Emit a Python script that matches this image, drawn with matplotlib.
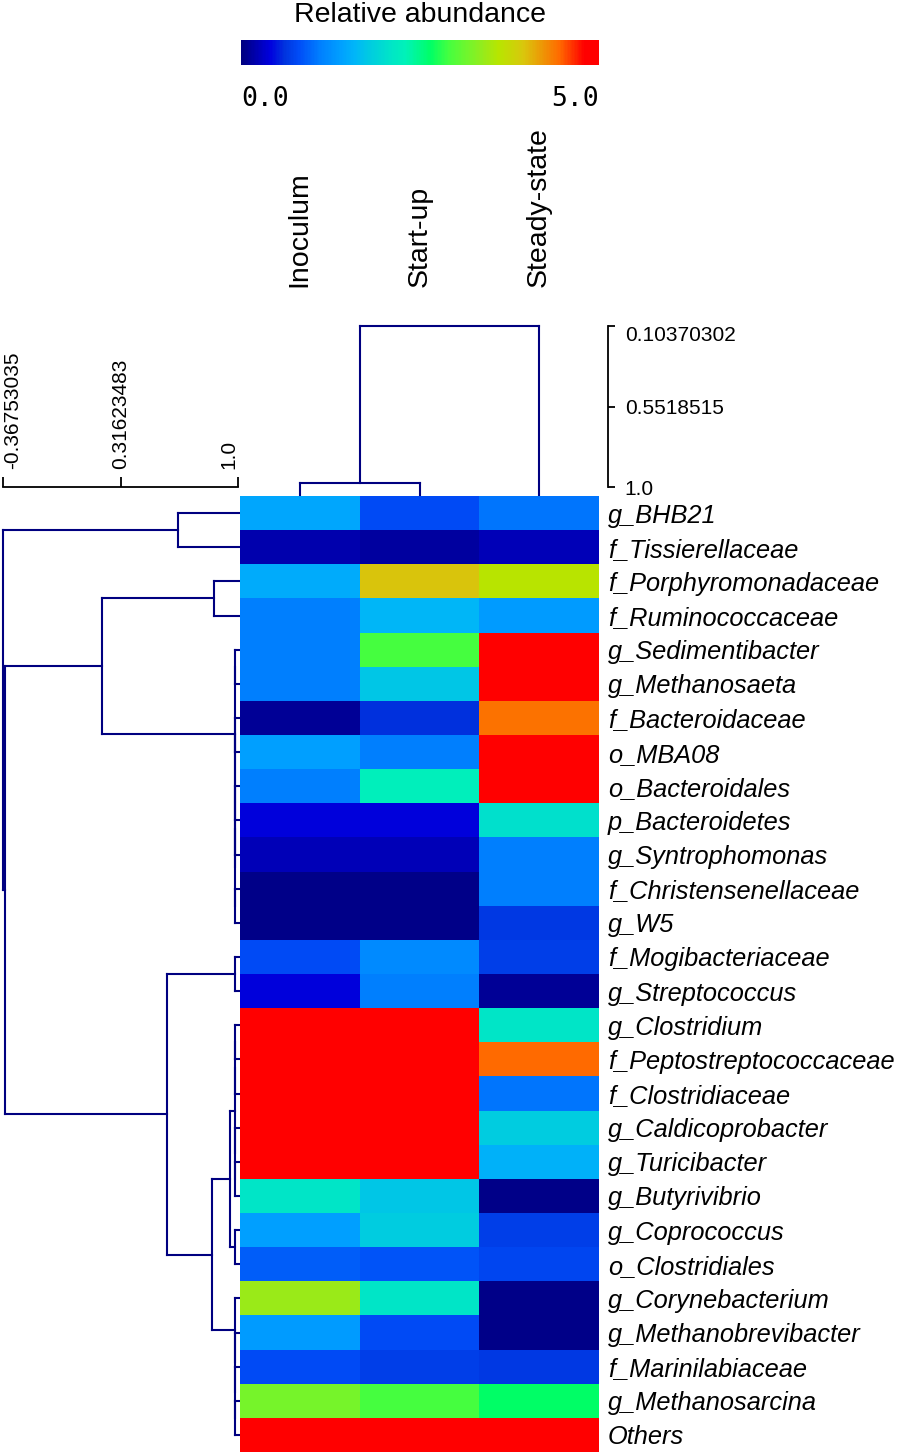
import numpy as np
import matplotlib
matplotlib.use("Agg")
import matplotlib.pyplot as plt
from matplotlib.colors import LinearSegmentedColormap

plt.rcParams['font.family'] = ['Liberation Sans', 'DejaVu Sans']

# ---- data ----
samples = ["Inoculum", "Start-up", "Steady-state"]

taxa = ["g_BHB21", "f_Tissierellaceae", "f_Porphyromonadaceae", "f_Ruminococcaceae",
        "g_Sedimentibacter", "g_Methanosaeta", "f_Bacteroidaceae", "o_MBA08",
        "o_Bacteroidales", "p_Bacteroidetes", "g_Syntrophomonas", "f_Christensenellaceae",
        "g_W5", "f_Mogibacteriaceae", "g_Streptococcus", "g_Clostridium",
        "f_Peptostreptococcaceae", "f_Clostridiaceae", "g_Caldicoprobacter", "g_Turicibacter",
        "g_Butyrivibrio", "g_Coprococcus", "o_Clostridiales", "g_Corynebacterium",
        "g_Methanobrevibacter", "f_Marinilabiaceae", "g_Methanosarcina", "Others"]

inoculum = [1.45, 0.20, 1.50, 1.10, 1.10, 1.10, 0.10, 1.40, 1.10, 0.40, 0.25, 0.05, 0.05, 0.80,
            0.40, 5.0, 5.0, 5.0, 5.0, 5.0, 2.10, 1.40, 0.90, 3.40, 1.35, 0.80, 3.20, 5.0]
startup = [0.80, 0.15, 3.95, 1.60, 2.90, 1.75, 0.60, 1.10, 2.25, 0.40, 0.25, 0.05, 0.05, 1.20,
           1.10, 5.0, 5.0, 5.0, 5.0, 5.0, 1.75, 1.80, 0.85, 2.10, 0.80, 0.70, 2.90, 5.0]
steady = [1.05, 0.25, 3.60, 1.35, 5.0, 5.0, 4.40, 5.0, 5.0, 2.05, 1.10, 1.10, 0.65, 0.70,
          0.10, 2.10, 4.45, 1.05, 1.80, 1.55, 0.05, 0.70, 0.75, 0.05, 0.05, 0.65, 2.65, 5.0]

# row clustering (similarity): (child a, child b, height), new node ids start at 28
row_merges = [
    (0, 1, 0.648), (2, 3, 0.859),
    (4, 5, 0.982), (6, 7, 0.982), (8, 9, 0.982), (32, 10, 0.982), (11, 12, 0.982),
    (33, 34, 0.982), (31, 35, 0.982), (30, 36, 0.980),
    (29, 37, 0.208),
    (13, 14, 0.982),
    (15, 16, 0.982), (40, 17, 0.982), (19, 20, 0.982), (18, 42, 0.982), (41, 43, 0.982),
    (21, 22, 0.982), (44, 45, 0.953),
    (26, 27, 0.982), (25, 47, 0.982), (24, 48, 0.982), (23, 49, 0.982),
    (46, 50, 0.847), (39, 51, 0.589), (38, 52, -0.356), (28, 53, -0.3675),
]
row_ticks = [-0.36753035, 0.31623483, 1.0]
row_ticklabels = ["-0.36753035", "0.31623483", "1.0"]

# column clustering
col_merges = [(0, 1, 0.978), (3, 2, 0.10370302)]
col_ticks = [0.10370302, 0.5518515, 1.0]
col_ticklabels = ["0.10370302", "0.5518515", "1.0"]

values = np.array([inoculum, startup, steady]).T

cmap = LinearSegmentedColormap.from_list("abund", [
    (0.00, (0.0, 0.0, 0.50)), (0.08, (0.0, 0.0, 0.87)), (0.12, (0.0, 0.2, 0.87)),
    (0.16, (0.0, 0.3, 0.97)), (0.22, (0.0, 0.5, 1.0)), (0.28, (0.0, 0.63, 1.0)),
    (0.32, (0.0, 0.72, 0.97)), (0.36, (0.0, 0.8, 0.88)), (0.42, (0.0, 0.9, 0.78)),
    (0.46, (0.0, 0.95, 0.72)), (0.53, (0.0, 1.0, 0.4)), (0.58, (0.27, 1.0, 0.25)),
    (0.65, (0.5, 0.95, 0.15)), (0.68, (0.6, 0.92, 0.1)), (0.72, (0.72, 0.9, 0.0)),
    (0.79, (0.85, 0.78, 0.05)), (0.89, (1.0, 0.42, 0.0)), (0.96, (1.0, 0.0, 0.0)),
    (1.00, (1.0, 0.0, 0.0))])

LINE = "#000080"
W, H = 898, 1455


def frac(x0, y0, x1, y1):
    return [x0 / W, 1 - y1 / H, (x1 - x0) / W, (y1 - y0) / H]


def dendro_segments(merges, n, leaf_h):
    pos = {i: float(i) for i in range(n)}
    hgt = {i: leaf_h for i in range(n)}
    segs = []
    for k, (a, b, h) in enumerate(merges):
        segs.append(([hgt[a], h], [pos[a], pos[a]]))
        segs.append(([hgt[b], h], [pos[b], pos[b]]))
        segs.append(([h, h], [pos[a], pos[b]]))
        pos[n + k] = (pos[a] + pos[b]) / 2
        hgt[n + k] = h
    return segs


fig = plt.figure(figsize=(W / 100, H / 100), dpi=100)

# heatmap
ax = fig.add_axes(frac(240, 496, 599, 1452))
im = ax.imshow(values, cmap=cmap, vmin=0, vmax=5, aspect="auto", interpolation="nearest")
ax.set_xticks([])
ax.yaxis.tick_right()
ax.set_yticks(range(len(taxa)))
ax.set_yticklabels(taxa, fontsize=18.3, fontstyle="italic")
ax.tick_params(axis="y", length=0, pad=6.5)
for s in ax.spines.values():
    s.set_visible(False)

# left dendrogram
axl = fig.add_axes(frac(0, 496, 240, 1452))
for name, s in axl.spines.items():
    s.set_visible(name == "top")
axl.spines["top"].set_position(("outward", 6.5))
axl.spines["top"].set_linewidth(1.3)
left_lim = (-0.387, 1.0116)
for hx, py in dendro_segments(row_merges, len(taxa), left_lim[1]):
    axl.plot(hx, py, color=LINE, lw=1.5, solid_capstyle="projecting")
axl.set_xlim(*left_lim)
axl.set_ylim(len(taxa) - 0.5, -0.5)
axl.set_yticks([])
axl.xaxis.tick_top()
axl.set_xticks(row_ticks)
axl.set_xticklabels(row_ticklabels, rotation=90, fontsize=15)
axl.tick_params(axis="x", direction="out", length=7, width=1.3, pad=6)
axl.spines["top"].set_bounds(row_ticks[0], row_ticks[-1])
axl.get_xticklabels()[-1].set_horizontalalignment("right")
axl.get_xticklabels()[0].set_horizontalalignment("left")
axl.patch.set_visible(False)

# top dendrogram
axt = fig.add_axes(frac(240, 300, 599, 496))
for name, s in axt.spines.items():
    s.set_visible(name == "right")
axt.spines["right"].set_position(("outward", 6.5))
axt.spines["right"].set_linewidth(1.3)
top_lim = (1.050, -0.041)
for hy, px in dendro_segments(col_merges, len(samples), top_lim[0]):
    axt.plot(px, hy, color=LINE, lw=1.5, solid_capstyle="projecting")
axt.set_xlim(-0.5, len(samples) - 0.5)
axt.set_ylim(*top_lim)
axt.xaxis.tick_top()
axt.set_xticks(range(len(samples)))
axt.set_xticklabels(samples, rotation=90, fontsize=20.5)
axt.tick_params(axis="x", length=0, pad=9.5)
axt.yaxis.tick_right()
axt.set_yticks(col_ticks)
axt.set_yticklabels(col_ticklabels, fontsize=15)
axt.tick_params(axis="y", direction="out", length=5, width=1.3, pad=7)
axt.spines["right"].set_bounds(col_ticks[0], col_ticks[-1])
axt.get_yticklabels()[0].set_verticalalignment("top")
axt.patch.set_visible(False)

# colour bar
cax = fig.add_axes(frac(241, 40, 599, 65))
cbar = fig.colorbar(im, cax=cax, orientation="horizontal")
cbar.outline.set_visible(False)
cbar.set_ticks([0, 5])
cbar.set_ticklabels(["0.0", "5.0"])
cax.tick_params(length=0, pad=15)
labs = cax.get_xticklabels()
for lab in labs:
    lab.set_fontfamily("DejaVu Sans Mono")
    lab.set_fontsize(19)
labs[0].set_horizontalalignment("left")
labs[1].set_horizontalalignment("right")
cax.set_title("Relative abundance", fontsize=20.5, pad=13)

fig.savefig("out.png", dpi=100)
